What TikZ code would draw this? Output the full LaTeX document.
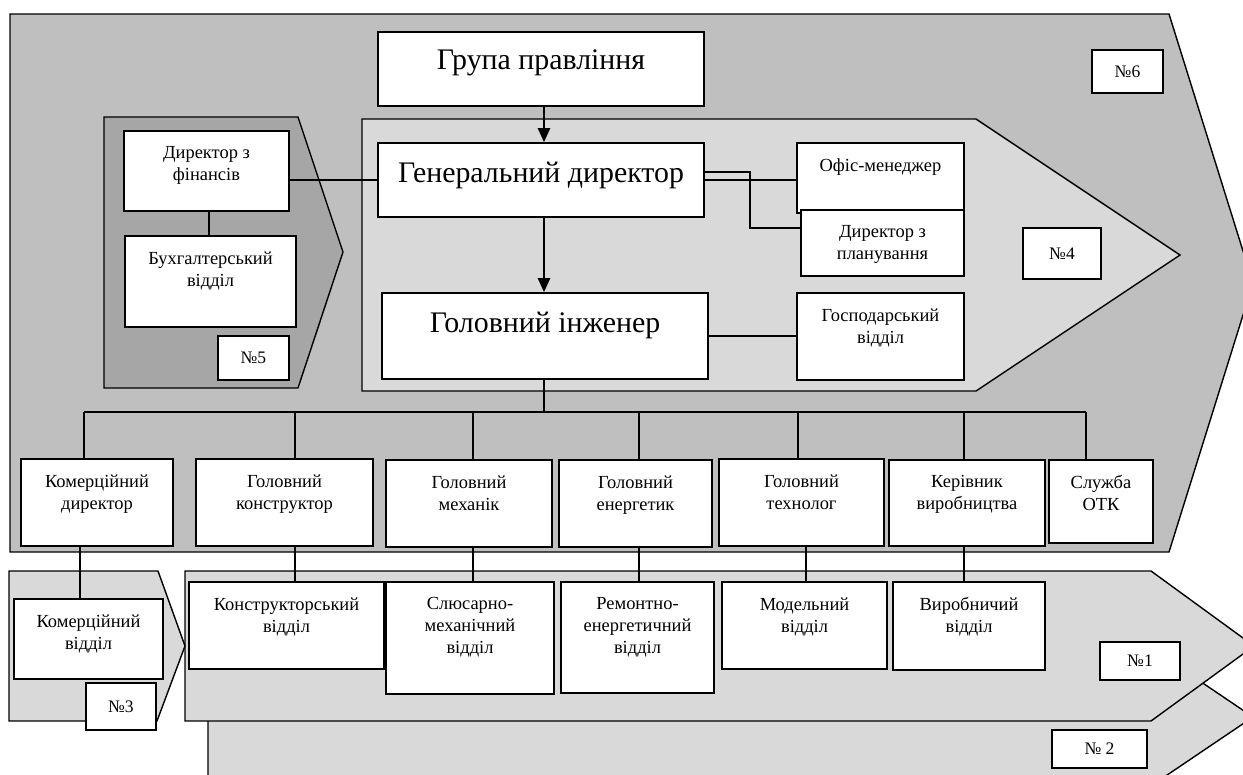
\documentclass[tikz,border=0pt]{standalone}
\usepackage{fontspec}
\setmainfont{Liberation Serif}
\usetikzlibrary{fit,arrows.meta}
\definecolor{zmid}{HTML}{BFBFBF}
\definecolor{zlight}{HTML}{D9D9D9}
\definecolor{zdark}{HTML}{A6A6A6}

\begin{document}
\begin{tikzpicture}[x=0.02cm,y=-0.02cm,
  box/.style={draw,fill=white,line width=1pt,inner sep=0pt},
  txt/.style={anchor=north,align=center,inner sep=0pt,font=\fontsize{10.5}{12.6}\selectfont},
  bigtxt/.style={txt,font=\fontsize{17}{20}\selectfont},
  numtxt/.style={inner sep=0pt,font=\fontsize{10}{12}\selectfont},
  zone/.style={draw,line width=0.8pt},
  link/.style={line width=1pt},
  >={Triangle[width=7pt,length=8pt]}]
\useasboundingbox (0,0) rectangle (1243,774);
% zones
\draw[zone,fill=zlight] (208,642) -- (1142,642) -- (1253,717) -- (1142,792) -- (208,792) -- cycle;
\draw[zone,fill=zlight] (185,571) -- (1151,571) -- (1254,646) -- (1151,721) -- (185,721) -- cycle;
\draw[zone,fill=zlight] (9,571) -- (158,571) -- (185,646) -- (157,721) -- (9,721) -- cycle;
\draw[zone,fill=zmid] (10,14) -- (1169,14) -- (1253,283) -- (1169,552) -- (10,552) -- cycle;
\draw[zone,fill=zdark] (104,117) -- (298,117) -- (343,252) -- (298,388) -- (104,388) -- cycle;
\draw[zone,fill=zlight] (362,119) -- (976,119) -- (1180,255) -- (976,391) -- (362,391) -- cycle;

% boxes
\node[box,fit={(378,32) (704,106)}] (grp) {};
\node[box,fit={(378,143) (704,217)}] (gen) {};
\node[box,fit={(382,293) (708,379)}] (eng) {};
\node[box,fit={(797,143) (964,213)}] (ofis) {};
\node[box,fit={(801,210) (964,276)}] (plan) {};
\node[box,fit={(797,293) (964,380)}] (gosp) {};
\node[box,fit={(124,131) (289,211)}] (fin) {};
\node[box,fit={(125,236) (296,327)}] (buh) {};
\node[box,fit={(21,459) (173,546)}] (komdir) {};
\node[box,fit={(196,459) (373,546)}] (konstr) {};
\node[box,fit={(386,460) (552,547)}] (mech) {};
\node[box,fit={(559,460) (712,547)}] (energ) {};
\node[box,fit={(719,459) (884,546)}] (tech) {};
\node[box,fit={(889,460) (1045,546)}] (kerivn) {};
\node[box,fit={(1049,460) (1153,543)}] (otk) {};
\node[box,fit={(14,599) (163,679)}] (komvid) {};
\node[box,fit={(189,582) (384,669)}] (konvid) {};
\node[box,fit={(386,582) (554,694)}] (slus) {};
\node[box,fit={(561,582) (714,693)}] (remont) {};
\node[box,fit={(722,582) (887,669)}] (model) {};
\node[box,fit={(893,582) (1045,670)}] (vyrob) {};
\node[box,fit={(1092,50) (1163,93)}] (n6) {};
\node[box,fit={(1023,228) (1101,279)}] (n4) {};
\node[box,fit={(218,336) (289,380)}] (n5) {};
\node[box,fit={(86,683) (156,730)}] (n3) {};
\node[box,fit={(1100,642) (1180,680)}] (n1) {};
\node[box,fit={(1052,730) (1147,768)}] (n2) {};

% texts
\node[bigtxt] (grp-t) at ([yshift=-0.36cm]grp.north) {Група правління};
\node[bigtxt] (gen-t) at ([yshift=-0.4cm]gen.north) {Генеральний директор};
\node[bigtxt] (eng-t) at ([yshift=-0.4cm]eng.north) {Головний інженер};
\node[txt] (ofis-t) at ([yshift=-0.32cm]ofis.north) {Офіс-менеджер};
\node[txt] (plan-t) at ([yshift=-0.32cm]plan.north) {Директор з\\планування};
\node[txt] (gosp-t) at ([yshift=-0.32cm]gosp.north) {Господарський\\відділ};
\node[txt] (fin-t) at ([yshift=-0.32cm]fin.north) {Директор з\\фінансів};
\node[txt] (buh-t) at ([yshift=-0.32cm]buh.north) {Бухгалтерський\\відділ};
\node[txt] (komdir-t) at ([yshift=-0.32cm]komdir.north) {Комерційний\\директор};
\node[txt] (konstr-t) at ([yshift=-0.32cm]konstr.north) {Головний\\конструктор};
\node[txt] (mech-t) at ([yshift=-0.32cm]mech.north) {Головний\\механік};
\node[txt] (energ-t) at ([yshift=-0.32cm]energ.north) {Головний\\енергетик};
\node[txt] (tech-t) at ([yshift=-0.32cm]tech.north) {Головний\\технолог};
\node[txt] (kerivn-t) at ([yshift=-0.32cm]kerivn.north) {Керівник\\виробництва};
\node[txt] (otk-t) at ([yshift=-0.32cm]otk.north) {Служба\\ОТК};
\node[txt] (komvid-t) at ([yshift=-0.32cm]komvid.north) {Комерційний\\відділ};
\node[txt] (konvid-t) at ([yshift=-0.32cm]konvid.north) {Конструкторський\\відділ};
\node[txt] (slus-t) at ([yshift=-0.32cm]slus.north) {Слюсарно-\\механічний\\відділ};
\node[txt] (remont-t) at ([yshift=-0.32cm]remont.north) {Ремонтно-\\енергетичний\\відділ};
\node[txt] (model-t) at ([yshift=-0.32cm]model.north) {Модельний\\відділ};
\node[txt] (vyrob-t) at ([yshift=-0.32cm]vyrob.north) {Виробничий\\відділ};
\node[numtxt] (n6-t) at (n6) {№6};
\node[numtxt] (n4-t) at (n4) {№4};
\node[numtxt] (n5-t) at (n5) {№5};
\node[numtxt] (n3-t) at (n3) {№3};
\node[numtxt] (n1-t) at (n1) {№1};
\node[numtxt] (n2-t) at (n2) {№ 2};

% links
\draw[link,->] (grp.south -| 544,0) -- (gen.north -| 544,0);
\draw[link,->] (gen.south -| 544,0) -- (eng.north -| 544,0);
\draw[link] (fin.east |- gen.west) -- (gen.west);
\draw[link] (fin.south -| 209,0) -- (buh.north -| 209,0);
\draw[link] (gen.east) -- (gen.east -| ofis.west);
\draw[link] ([yshift=0.16cm]gen.east) -| (750,228) -- (plan.west |- 750,228);
\draw[link] (eng.east) -- (eng.east -| gosp.west);
\coordinate (bus) at (544,412);
\draw[link] (eng.south -| bus) -- (bus);
\draw[link] (bus -| 84,0) -- (bus -| 1086,0);
\foreach \x/\n in {84/komdir,295/konstr,473/mech,639/energ,798/tech,964/kerivn,1086/otk}
  \draw[link] (bus -| \x,0) -- (\n.north -| \x,0);
\foreach \x/\a/\b in {80/komdir/komvid,295/konstr/konvid,473/mech/slus,639/energ/remont,806/tech/model,964/kerivn/vyrob}
  \draw[link] (\a.south -| \x,0) -- (\b.north -| \x,0);
\end{tikzpicture}
\end{document}
